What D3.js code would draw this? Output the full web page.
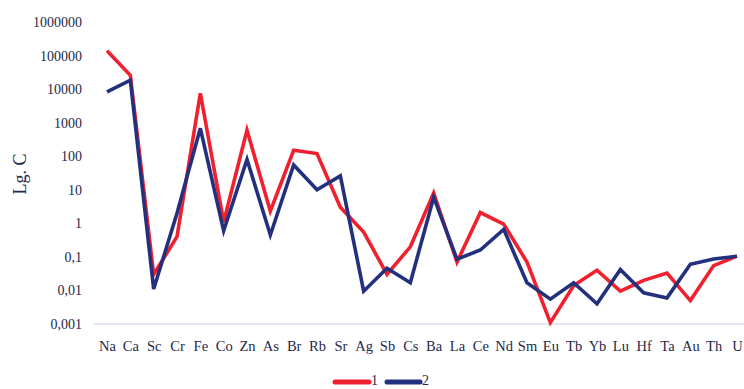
<!DOCTYPE html>
<html>
<head>
<meta charset="utf-8">
<script src="https://cdn.jsdelivr.net/npm/d3@7"></script>
<style>
  html, body { margin: 0; padding: 0; background: #ffffff; }
  svg { display: block; }
  text { font-family: "Liberation Serif", "DejaVu Serif", serif; fill: #25284a; }
</style>
</head>
<body>
<svg id="chart" width="744" height="389"></svg>
<script>
// Elements along the x axis
const elements = ["Na","Ca","Sc","Cr","Fe","Co","Zn","As","Br","Rb","Sr","Ag","Sb","Cs",
                  "Ba","La","Ce","Nd","Sm","Eu","Tb","Yb","Lu","Hf","Ta","Au","Th","U"];

// Concentrations, series 1 and series 2
const series1 = [138000, 26000, 0.03, 0.4, 7500, 1.1, 600, 2.3, 150, 120, 3, 0.55, 0.03, 0.2,
                 8, 0.07, 2.1, 0.95, 0.07, 0.0011, 0.014, 0.04, 0.0095, 0.02, 0.033, 0.005, 0.055, 0.105];
const series2 = [8300, 18500, 0.011, 2, 680, 0.6, 80, 0.45, 55, 10, 26, 0.0095, 0.046, 0.017,
                 6, 0.085, 0.16, 0.66, 0.017, 0.0055, 0.017, 0.004, 0.042, 0.0085, 0.006, 0.06, 0.087, 0.105];

const seriesNames = ["1", "2"];
const seriesColors = ["#f0202f", "#22307e"];

// Y axis ticks (decades) and their labels
const yTicks = [0.001, 0.01, 0.1, 1, 10, 100, 1000, 10000, 100000, 1000000];
const yTickLabels = ["0,001", "0,01", "0,1", "1", "10", "100", "1000", "10000", "100000", "1000000"];

const svg = d3.select("#chart");

const x = d3.scalePoint().domain(elements).range([107, 737]);
const y = d3.scaleLog().domain([0.001, 1000000]).range([324, 22]);

// Baseline at the bottom of the value range
svg.append("line")
  .attr("x1", 94).attr("x2", 744)
  .attr("y1", y(0.001)).attr("y2", y(0.001))
  .attr("stroke", "#c9cde3").attr("stroke-width", 1.2);

// Y axis labels
const yAxis = d3.axisLeft(y)
  .tickValues(yTicks)
  .tickFormat((d, i) => yTickLabels[i])
  .tickSize(0).tickPadding(0);
const gy = svg.append("g").attr("transform", "translate(82,0)").call(yAxis);
gy.select(".domain").remove();
gy.selectAll("text")
  .style("font-family", '"Liberation Serif", serif')
  .style("font-size", "14px")
  .attr("fill", "#25284a");

// X axis labels
const xAxis = d3.axisBottom(x).tickSize(0).tickPadding(0);
const gx = svg.append("g").attr("transform", "translate(0,341)").call(xAxis);
gx.select(".domain").remove();
gx.selectAll("text")
  .style("font-family", '"Liberation Serif", serif')
  .style("font-size", "14.5px")
  .attr("fill", "#25284a");

// Y axis title
svg.append("text")
  .attr("transform", "translate(26,174) rotate(-90)")
  .attr("text-anchor", "middle")
  .style("font-size", "18px")
  .text("Lg. C");

// Lines
const line = d3.line()
  .x((d, i) => x(elements[i]))
  .y(d => y(d));

[series1, series2].forEach((s, k) => {
  svg.append("path")
    .datum(s)
    .attr("d", line)
    .attr("fill", "none")
    .attr("stroke", seriesColors[k])
    .attr("stroke-width", 3.6)
    .attr("stroke-linejoin", "miter")
    .attr("stroke-linecap", "butt");
});

// Legend
const legend = svg.append("g");
const legendItems = [{x0: 335, x1: 369, tx: 371}, {x0: 387, x1: 420, tx: 422}];
legendItems.forEach((p, k) => {
  legend.append("line")
    .attr("x1", p.x0).attr("x2", p.x1)
    .attr("y1", 382).attr("y2", 382)
    .attr("stroke", seriesColors[k])
    .attr("stroke-width", 5)
    .attr("stroke-linecap", "round");
  legend.append("text")
    .attr("x", p.tx).attr("y", 385)
    .style("font-size", "14px")
    .text(seriesNames[k]);
});
</script>
</body>
</html>
